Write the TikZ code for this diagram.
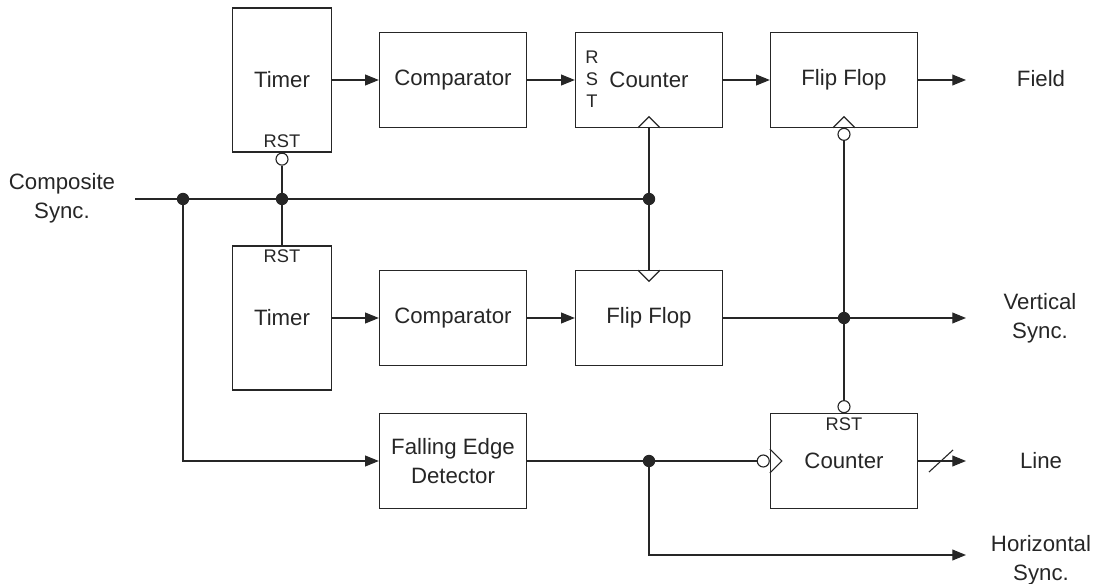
\documentclass[tikz,border=0pt]{standalone}
\usepackage{fontspec}
\setmainfont{Liberation Sans}
\usetikzlibrary{arrows.meta,positioning,calc}

\tikzset{
	block/.style={draw, line width=0.8pt, minimum width=3.68cm, minimum height=2.36cm, align=center, inner sep=0pt},
	tall/.style={block, minimum width=2.48cm, minimum height=3.6cm},
	bubble/.style={draw, line width=0.8pt, fill=white, circle, inner sep=0pt, minimum size=0.3cm},
	dot/.style={fill, circle, inner sep=0pt, minimum size=0.31cm},
	pin/.style={font=\fontsize{13}{15}\selectfont, inner sep=0pt},
	wire/.style={draw, line width=0.8pt},
	sig/.style={wire, -{Triangle[length=0.34cm, width=0.27cm]}}
}

\begin{document}
\begin{tikzpicture}[x=0.025cm, y=-0.025cm, color=black!85,
		font=\fontsize{15.8}{20.5}\selectfont]
		\useasboundingbox (0,0) rectangle (1101,584);

		% blocks, top row
		\node [tall]  (timerA) at (282, 80)  {Timer};
		\node [block] (compA)  at (453, 80)  {Comparator};
		\node [block] (cntA)   at (649, 80)  {Counter};
		\node [block] (ffA)    at (844, 80)  {Flip Flop};

		% blocks, middle row
		\node [tall]  (timerB) at (282, 318) {Timer};
		\node [block] (compB)  at (453, 318) {Comparator};
		\node [block] (ffB)    at (649, 318) {Flip Flop};

		% blocks, bottom row
		\node [block] (fed)    at (453, 461) {Falling Edge\\Detector};
		\node [block] (cntB)   at (844, 461) {Counter};

		% pin labels
		\node [pin, above=0.12cm of timerA.south] (rstA) {RST};
		\node [pin, below=0.1cm of timerB.north] (rstB) {RST};
		\node [pin, below=0.1cm of cntB.north] (rstC) {RST};
		\node [pin, align=center, font=\fontsize{13}{15.5}\selectfont] (rstV) at (592, 79) {R\\S\\T};

		% inverting inputs
		\node [bubble, below=0pt of timerA.south] (invA) {};
		\node [bubble, below=0pt of ffA.south] (invF) {};
		\node [bubble, above=0pt of cntB.north] (invC) {};
		\node [bubble, left=0pt of cntB.west] (invK) {};

		% clock inputs
		\draw [wire] ($(cntA.south)+(-11,0)$) -- ++(11,-11) -- ++(11,11);
		\draw [wire] ($(ffA.south)+(-11,0)$) -- ++(11,-11) -- ++(11,11);
		\draw [wire] ($(ffB.north)+(-11,0)$) -- ++(11,11) -- ++(11,-11);
		\draw [wire] ($(cntB.west)+(0,-12)$) -- ++(12,12) -- ++(-12,12);

		% outside labels
		\node [align=center] (csync) at (62, 198) {Composite\\Sync.};
		\node (field) at (1041, 79) {Field};
		\node [align=center] (vsync) at (1040, 318) {Vertical\\Sync.};
		\node (line) at (1041, 461) {Line};
		\node [align=center] (hsync) at (1041, 560) {Horizontal\\Sync.};

		% junctions
		\coordinate (cs) at (135, 199);
		\node [dot] (j1) at (183, 199) {};
		\node [dot] (j2) at (timerA.south |- cs) {};
		\node [dot] (j3) at (cntA.south |- cs) {};
		\node [dot] (j4) at (invF |- ffB) {};
		\node [dot] (j5) at (649, 461) {};

		% arrow ends
		\coordinate (fieldEnd) at (966, 80);
		\coordinate (vsEnd) at (966, 318);
		\coordinate (lineEnd) at (966, 461);
		\coordinate (hsEnd) at (966, 555);

		% composite sync bus
		\draw [wire] (cs) -- (j3);
		\draw [wire] (invA) -- (j2) -- (timerB.north);
		\draw [wire] (cntA.south) -- (j3) -- (ffB.north);
		\draw [sig] (j1) |- (fed.west);

		% signal paths
		\draw [sig] (timerA) -- (compA);
		\draw [sig] (compA) -- (cntA);
		\draw [sig] (cntA) -- (ffA);
		\draw [sig] (ffA) -- (fieldEnd);
		\draw [sig] (timerB) -- (compB);
		\draw [sig] (compB) -- (ffB);
		\draw [sig] (ffB) -- (vsEnd);
		\draw [wire] (invF) -- (j4) -- (invC);
		\draw [wire] (fed) -- (j5) -- (invK);
		\draw [sig] (j5) |- (hsEnd);
		\draw [sig] (cntB) -- (lineEnd);

		% bus width mark
		\coordinate (slash) at (941, 461);
		\draw [wire] ($(slash)+(-12,11)$) -- ($(slash)+(12,-11)$);
	\end{tikzpicture}
\end{document}
